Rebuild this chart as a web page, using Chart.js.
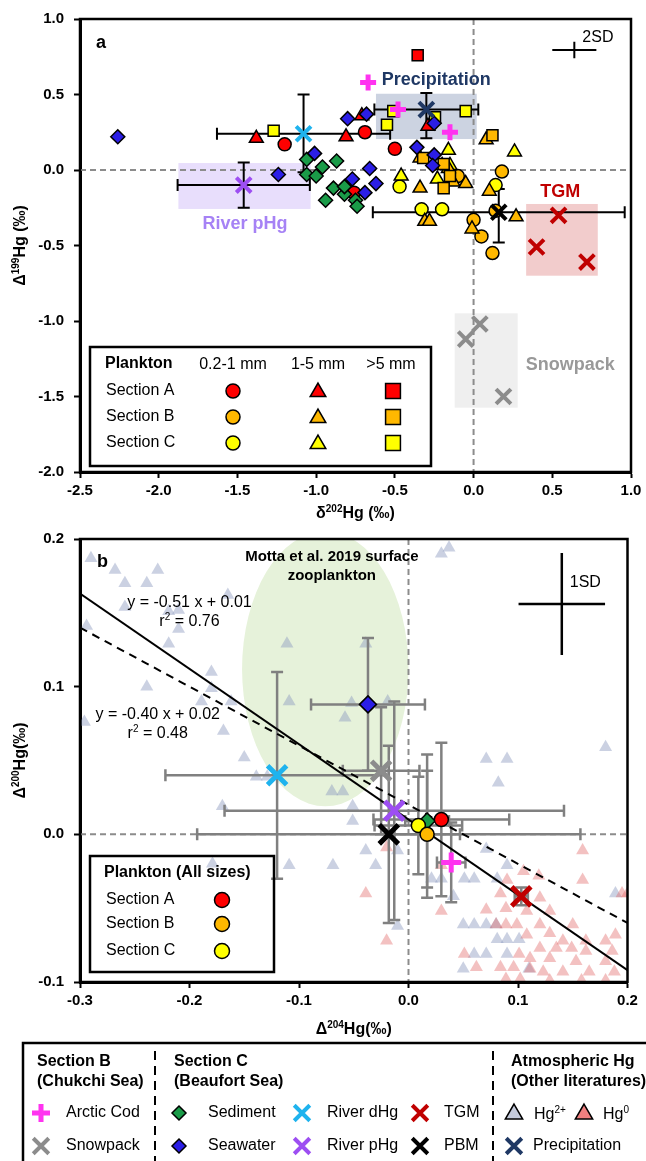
<!DOCTYPE html>
<html>
<head>
<meta charset="utf-8">
<script src="https://cdn.jsdelivr.net/npm/chart.js@4.4.0/dist/chart.umd.min.js"></script>
<style>
  html, body { margin: 0; padding: 0; background: #fff; }
  #wrapA { position: absolute; left: 0; top: 0; width: 646px; height: 530px; }
  #wrapB { position: absolute; left: 0; top: 515px; width: 646px; height: 646px; }
</style>
</head>
<body>
<div id="wrapA"><canvas id="chartA" width="646" height="530"></canvas></div>
<div id="wrapB"><canvas id="chartB" width="646" height="646"></canvas></div>
<script>
const FONT = '"Liberation Sans", Arial, Helvetica, sans-serif';

// ---------- panel a : d202Hg (x) vs D199Hg (y) ----------
const seawaterA = [[-2.26,0.22],[-1.24,-0.03],[-1.01,0.11],[-0.80,0.34],[-0.77,-0.06],[-0.68,0.37],[-0.66,0.01],[-0.62,-0.09],[-0.69,-0.15],[-0.36,0.15],[-0.25,0.10],[-0.25,0.31],[-0.26,0.03]];
const sedimentA = [[-1.06,0.07],[-0.96,0.02],[-0.87,0.06],[-1.06,-0.03],[-1.00,-0.04],[-0.89,-0.12],[-0.94,-0.20],[-0.82,-0.16],[-0.75,-0.20],[-0.74,-0.24],[-0.82,-0.11]];
const secASmallA = [[-1.20,0.17],[-0.69,0.25],[-0.76,-0.15],[-0.50,0.14]];
const secAMidA = [[-1.38,0.21],[-0.81,0.22],[-0.29,0.29],[-0.71,0.36]];
const secALargeA = [[-0.355,0.76]];
const secBSmallA = [[-0.10,-0.04],[0.18,-0.01],[0.00,-0.33],[0.05,-0.44],[0.12,-0.55],[0.14,-0.27]];
const secBMidA = [[-0.34,0.08],[-0.34,-0.12],[-0.16,0.01],[-0.13,-0.08],[-0.05,-0.09],[-0.31,-0.34],[-0.28,-0.34],[0.08,0.20],[0.27,-0.31],[0.10,-0.14],[-0.01,-0.39],[-0.20,0.03]];
const secBLargeA = [[0.12,0.23],[-0.32,0.08],[-0.19,0.04],[-0.19,-0.12],[-0.15,-0.04]];
const secCSmallA = [[-0.47,-0.11],[-0.33,-0.26],[-0.20,-0.26],[0.14,-0.10]];
const secCMidA = [[-0.16,0.13],[0.26,0.12],[-0.46,-0.04],[-0.23,-0.06],[-0.15,0.03]];
const secCLargeA = [[-1.27,0.26],[-0.51,0.39],[-0.55,0.30],[-0.05,0.39],[-0.245,0.35]];
const codA = [[-0.67,0.58],[-0.48,0.40],[-0.15,0.25]];
const precipA = [[-0.30,0.40]];
const riverDA = [[-1.08,0.24]];
const riverPA = [[-1.46,-0.10]];
const pbmA = [[0.16,-0.28]];
const tgmA = [[0.54,-0.30],[0.40,-0.51],[0.72,-0.61]];
const snowA = [[0.04,-1.02],[-0.05,-1.12],[0.19,-1.50]];
// error bars [xErr, yErrDown, yErrUp]
const precipErrA = [0.33,0.19,0.11];
const riverDErrA = [0.55,0.255,0.26];
const riverPErrA = [0.42,0.15,0.15];
const pbmErrA = [0.80,0.20,0.155];
// shaded ranges [x0, x1, y0, y1]
const precipBoxA = [-0.62,0.02,0.205,0.505];
const riverPBoxA = [-1.875,-1.035,-0.258,0.046];
const tgmBoxA = [0.334,0.789,-0.70,-0.225];
const snowBoxA = [-0.12,0.28,-1.574,-0.949];
// 2SD cross [x, y, xErr, yErr]
const sdA = [0.64,0.795,0.14,0.055];
const xTicksA = [-2.5, 1.0, 0.5];
const yTicksA = [-2.0, 1.0, 0.5];

// ---------- panel b : D204Hg (x) vs D200Hg (y) ----------
const hg2B = [[-0.290,0.187],[-0.268,0.179],[-0.259,0.170],[-0.239,0.170],[-0.229,0.179],[-0.259,0.154],[-0.219,0.151],[-0.210,0.152],[-0.210,0.139],[-0.294,0.141],[-0.165,0.162],[-0.219,0.129],[-0.180,0.110],[-0.180,0.099],[-0.239,0.100],[-0.189,0.090],[-0.162,0.090],[-0.296,0.076],[-0.169,0.070],[-0.111,0.129],[-0.109,0.090],[-0.058,0.079],[-0.052,0.089],[-0.150,0.052],[0.030,0.190],[0.037,0.194],[-0.039,0.129],[-0.019,0.090],[0.180,0.059],[0.071,0.051],[0.090,0.051],[-0.139,0.039],[-0.129,0.039],[-0.070,0.029],[-0.060,0.029],[-0.170,0.019],[-0.051,0.019],[-0.051,0.009],[-0.179,-0.020],[-0.109,-0.021],[-0.069,-0.021],[0.082,0.035],[-0.039,-0.011],[-0.010,-0.011],[-0.030,-0.021],[0.071,-0.010],[0.021,-0.030],[0.030,-0.030],[0.051,-0.030],[0.060,-0.030],[0.081,-0.030],[0.090,-0.021],[0.041,-0.042],[0.189,-0.040],[0.050,-0.061],[0.060,-0.061],[0.071,-0.061],[0.080,-0.061],[-0.010,-0.062],[0.081,-0.071],[0.090,-0.071],[0.101,-0.071],[0.060,-0.081],[0.071,-0.081],[0.090,-0.081],[0.050,-0.091],[0.110,-0.091]];
const hg0B = [[0.159,-0.011],[-0.020,-0.009],[-0.039,-0.040],[0.030,-0.052],[0.071,-0.051],[-0.020,-0.072],[0.105,-0.025],[0.119,-0.028],[0.090,-0.031],[0.159,-0.031],[0.084,-0.040],[0.120,-0.043],[0.089,-0.050],[0.108,-0.052],[0.129,-0.052],[0.080,-0.061],[0.089,-0.061],[0.099,-0.061],[0.120,-0.061],[0.150,-0.061],[0.108,-0.068],[0.129,-0.067],[0.141,-0.072],[0.162,-0.072],[0.180,-0.072],[0.189,-0.068],[0.120,-0.077],[0.135,-0.077],[0.149,-0.077],[0.162,-0.079],[0.186,-0.079],[0.051,-0.081],[0.101,-0.081],[0.111,-0.084],[0.129,-0.084],[0.153,-0.086],[0.180,-0.086],[0.062,-0.090],[0.084,-0.090],[0.096,-0.090],[0.111,-0.091],[0.123,-0.093],[0.141,-0.093],[0.165,-0.093],[0.188,-0.093],[0.089,-0.098],[0.102,-0.098],[0.129,-0.099],[0.158,-0.099],[0.180,-0.099],[0.195,-0.040],[0.200,-0.040],[0.030,-0.021]];
const secAB = [[0.030,0.010]];
const secBB = [[0.017,0.000]];
const secCB = [[0.009,0.006]];
const sedimentB = [[0.017,0.009]];
const seawaterB = [[-0.037,0.088]];
const riverDB = [[-0.120,0.040]];
const riverPB = [[-0.013,0.016]];
const pbmB = [[-0.018,0.000]];
const snowB = [[-0.025,0.043]];
const tgmB = [[0.103,-0.042]];
const codB = [[0.039,-0.019]];
const secAErrB = [0.062,0.052,0.052];
const secBErrB = [0.030,0.043,0.043];
const secCErrB = [0.040,0.033,0.033];
const sedimentErrB = [0.020,0.045,0.045];
const seawaterErrB = [0.052,0.045,0.045];
const riverDErrB = [0.102,0.070,0.070];
const riverPErrB = [0.155,0.074,0.074];
const pbmErrB = [0.175,0.060,0.060];
const snowErrB = [0.035,0.043,0.043];
const tgmErrB = [0.006,0.006,0.006];
const codErrB = [0.013,0.027,0.027];
// regression: [slope, intercept]
const fitAllB = [-0.51, 0.01];
const fitPlanktonB = [-0.40, 0.02];
// Motta et al. 2019 range: [cx, cy, rx, ry]
const mottaB = [-0.076, 0.112, 0.076, 0.093];
const sdB = [0.140, 0.156, 0.0395, 0.0345];
const xTicksB = [-0.3, 0.2, 0.1];
const yTicksB = [-0.1, 0.2, 0.1];

// colours
const C = {
  red: '#ff0000', orange: '#ffb800', yellow: '#ffff00',
  sea: '#2b1ee6', sed: '#1a9b48', cod: '#ff33f0', navy: '#1f3864',
  cyan: '#1fb3ee', purple: '#9d4ef2', tgm: '#c00000', snow: '#8c8c8c', pbm: '#000000'
};

function toXY(arr) { return arr.map(p => ({ x: p[0], y: p[1] })); }
function markSet(label, arr, style, fill, r, order) {
  return { label, data: toXY(arr), pointStyle: style, backgroundColor: fill, borderColor: '#000',
    borderWidth: 1.5, pointRadius: r, pointHoverRadius: r, order };
}
function lineMark(label, arr, style, color, r, bw, order) {
  return { label, data: toXY(arr), pointStyle: style, backgroundColor: color, borderColor: color,
    borderWidth: bw, pointRadius: r, pointHoverRadius: r, order };
}
function fmt(v) { return (Math.abs(v) < 1e-9 ? 0 : v).toFixed(1); }
function axis(t, fit) {
  return {
    type: 'linear', min: t[0], max: t[1],
    ticks: { stepSize: t[2], color: '#000', font: { family: FONT, size: 15, weight: 'bold' }, padding: fit.pad, callback: fmt },
    grid: { drawOnChartArea: false, drawTicks: true, tickLength: 6, tickWidth: 2, tickColor: '#000' },
    border: { display: true, color: '#000', width: 3 },
    afterFit: fit.fn
  };
}

// text with superscripts: parts = [[text, isSup], ...]
function rich(ctx, parts, x, y, size, weight, align, color) {
  const f = s => `${weight} ${Math.round(s)}px ${FONT}`;
  let w = 0;
  parts.forEach(([t, sup]) => { ctx.font = f(sup ? size * 0.65 : size); w += ctx.measureText(t).width; });
  let cx = align === 'center' ? x - w / 2 : (align === 'right' ? x - w : x);
  ctx.fillStyle = color || '#000';
  ctx.textAlign = 'left';
  ctx.textBaseline = 'alphabetic';
  parts.forEach(([t, sup]) => {
    ctx.font = f(sup ? size * 0.65 : size);
    ctx.fillText(t, cx, sup ? y - size * 0.38 : y);
    cx += ctx.measureText(t).width;
  });
}
function text(ctx, s, x, y, size, weight, align, color) {
  ctx.font = `${weight} ${size}px ${FONT}`;
  ctx.fillStyle = color || '#000';
  ctx.textAlign = align;
  ctx.textBaseline = 'middle';
  ctx.fillText(s, x, y);
}
function mark(ctx, style, r, fill, stroke, bw, x, y) {
  ctx.save();
  ctx.fillStyle = fill; ctx.strokeStyle = stroke; ctx.lineWidth = bw;
  Chart.helpers.drawPoint(ctx, { pointStyle: style, radius: r, borderWidth: bw, rotation: 0 }, x, y);
  ctx.restore();
}
function errBar(ctx, chart, p, e, color, lw, cap) {
  const xs = chart.scales.x, ys = chart.scales.y;
  const cx = xs.getPixelForValue(p[0]), cy = ys.getPixelForValue(p[1]);
  const x0 = xs.getPixelForValue(p[0] - e[0]), x1 = xs.getPixelForValue(p[0] + e[0]);
  const y0 = ys.getPixelForValue(p[1] - e[1]), y1 = ys.getPixelForValue(p[1] + e[2]);
  ctx.save();
  ctx.strokeStyle = color; ctx.lineWidth = lw; ctx.setLineDash([]);
  ctx.beginPath();
  ctx.moveTo(x0, cy); ctx.lineTo(x1, cy);
  ctx.moveTo(x0, cy - cap); ctx.lineTo(x0, cy + cap);
  ctx.moveTo(x1, cy - cap); ctx.lineTo(x1, cy + cap);
  ctx.moveTo(cx, y0); ctx.lineTo(cx, y1);
  ctx.moveTo(cx - cap, y0); ctx.lineTo(cx + cap, y0);
  ctx.moveTo(cx - cap, y1); ctx.lineTo(cx + cap, y1);
  ctx.stroke();
  ctx.restore();
}
function sdCross(ctx, chart, s, lw) {
  const xs = chart.scales.x, ys = chart.scales.y;
  const cx = xs.getPixelForValue(s[0]), cy = ys.getPixelForValue(s[1]);
  ctx.save();
  ctx.strokeStyle = '#000'; ctx.lineWidth = lw;
  ctx.beginPath();
  ctx.moveTo(xs.getPixelForValue(s[0] - s[2]), cy); ctx.lineTo(xs.getPixelForValue(s[0] + s[2]), cy);
  ctx.moveTo(cx, ys.getPixelForValue(s[1] - s[3])); ctx.lineTo(cx, ys.getPixelForValue(s[1] + s[3]));
  ctx.stroke();
  ctx.restore();
}
function box(ctx, chart, b, color) {
  const xs = chart.scales.x, ys = chart.scales.y;
  const x0 = xs.getPixelForValue(b[0]), x1 = xs.getPixelForValue(b[1]);
  const y0 = ys.getPixelForValue(b[2]), y1 = ys.getPixelForValue(b[3]);
  ctx.fillStyle = color;
  ctx.fillRect(x0, y1, x1 - x0, y0 - y1);
}
function zeroLines(ctx, chart) {
  const a = chart.chartArea, xs = chart.scales.x, ys = chart.scales.y;
  const x0 = xs.getPixelForValue(0), y0 = ys.getPixelForValue(0);
  ctx.save();
  ctx.strokeStyle = '#8c8c8c'; ctx.lineWidth = 2; ctx.setLineDash([6, 4]);
  ctx.beginPath();
  ctx.moveTo(x0, a.top); ctx.lineTo(x0, a.bottom);
  ctx.moveTo(a.left, y0); ctx.lineTo(a.right, y0);
  ctx.stroke();
  ctx.restore();
}
function frame(ctx, chart) {
  const a = chart.chartArea;
  ctx.save();
  ctx.strokeStyle = '#000'; ctx.lineWidth = 2.5;
  ctx.strokeRect(a.left, a.top, a.right - a.left, a.bottom - a.top);
  ctx.restore();
}

// ---------------- chart a ----------------
const panelA = {
  id: 'panelA',
  beforeDatasetsDraw(chart) {
    const ctx = chart.ctx, a = chart.chartArea;
    ctx.save();
    ctx.beginPath(); ctx.rect(a.left, a.top, a.right - a.left, a.bottom - a.top); ctx.clip();
    box(ctx, chart, precipBoxA, '#ccd3e1');
    box(ctx, chart, riverPBoxA, '#e8defc');
    box(ctx, chart, tgmBoxA, '#f2cccc');
    box(ctx, chart, snowBoxA, '#efefef');
    zeroLines(ctx, chart);
    errBar(ctx, chart, precipA[0], precipErrA, '#000', 2, 6);
    errBar(ctx, chart, riverDA[0], riverDErrA, '#000', 2, 6);
    errBar(ctx, chart, riverPA[0], riverPErrA, '#000', 2, 6);
    errBar(ctx, chart, pbmA[0], pbmErrA, '#000', 2, 6);
    ctx.restore();
  },
  afterDraw(chart) {
    const ctx = chart.ctx, a = chart.chartArea, xs = chart.scales.x, ys = chart.scales.y;
    frame(ctx, chart);
    sdCross(ctx, chart, sdA, 2);
    text(ctx, '2SD', xs.getPixelForValue(sdA[0]) + 8, ys.getPixelForValue(sdA[1]) - 12, 16, 'normal', 'left');
    text(ctx, 'a', a.left + 16, a.top + 24, 18, 'bold', 'left');
    text(ctx, 'Precipitation', xs.getPixelForValue(-0.583), ys.getPixelForValue(0.598), 18, 'bold', 'left', C.navy);
    text(ctx, 'River pHg', xs.getPixelForValue(-1.452), ys.getPixelForValue(-0.358), 18, 'bold', 'center', '#a682f5');
    text(ctx, 'TGM', xs.getPixelForValue(0.55), ys.getPixelForValue(-0.148), 18, 'bold', 'center', C.tgm);
    text(ctx, 'Snowpack', xs.getPixelForValue(0.332), ys.getPixelForValue(-1.29), 18, 'bold', 'left', '#999999');
    // axis titles
    rich(ctx, [['δ', 0], ['202', 1], ['Hg (‰)', 0]], (a.left + a.right) / 2, 518, 16, 'bold', 'center');
    ctx.save();
    ctx.translate(25, (a.top + a.bottom) / 2); ctx.rotate(-Math.PI / 2);
    rich(ctx, [['Δ', 0], ['199', 1], ['Hg (‰)', 0]], 0, 0, 16, 'bold', 'center');
    ctx.restore();
    // legend
    ctx.save();
    ctx.strokeStyle = '#000'; ctx.lineWidth = 2.5;
    ctx.strokeRect(90, 347, 341, 119);
    ctx.restore();
    text(ctx, 'Plankton', 105, 364, 16, 'bold', 'left');
    text(ctx, '0.2-1 mm', 233, 365, 16, 'normal', 'center');
    text(ctx, '1-5 mm', 318, 365, 16, 'normal', 'center');
    text(ctx, '>5 mm', 391, 365, 16, 'normal', 'center');
    [['Section A', C.red, 391], ['Section B', C.orange, 417], ['Section C', C.yellow, 443]].forEach(([s, col, yy]) => {
      text(ctx, s, 106, yy, 16, 'normal', 'left');
      mark(ctx, 'circle', 7, col, '#000', 1.5, 233, yy);
      mark(ctx, 'triangle', 9, col, '#000', 1.5, 318, yy + 1);
      mark(ctx, 'rect', 10.5, col, '#000', 1.5, 393, yy);
    });
  }
};

new Chart(document.getElementById('chartA'), {
  type: 'scatter',
  data: {
    datasets: [
      lineMark('Precipitation', precipA, 'crossRot', C.navy, 10.5, 4, 0),
      lineMark('River dHg', riverDA, 'crossRot', C.cyan, 10.5, 4, 0),
      lineMark('River pHg', riverPA, 'crossRot', C.purple, 10.5, 4, 0),
      lineMark('PBM', pbmA, 'crossRot', C.pbm, 10.5, 4, 0),
      lineMark('TGM', tgmA, 'crossRot', C.tgm, 10.5, 4, 0),
      lineMark('Snowpack', snowA, 'crossRot', C.snow, 10.5, 4, 0),
      lineMark('Arctic Cod', codA, 'cross', C.cod, 8, 5, 1),
      markSet('Seawater', seawaterA, 'rectRot', C.sea, 7, 2),
      markSet('Sediment', sedimentA, 'rectRot', C.sed, 7, 2),
      markSet('A 0.2-1', secASmallA, 'circle', C.red, 6.5, 5),
      markSet('A 1-5', secAMidA, 'triangle', C.red, 8, 4),
      markSet('A >5', secALargeA, 'rect', C.red, 7.8, 3),
      markSet('B 0.2-1', secBSmallA, 'circle', C.orange, 6.5, 5),
      markSet('B 1-5', secBMidA, 'triangle', C.orange, 8, 4),
      markSet('B >5', secBLargeA, 'rect', C.orange, 7.8, 3),
      markSet('C 0.2-1', secCSmallA, 'circle', C.yellow, 6.5, 5),
      markSet('C 1-5', secCMidA, 'triangle', C.yellow, 8, 4),
      markSet('C >5', secCLargeA, 'rect', C.yellow, 7.8, 3)
    ]
  },
  options: {
    responsive: false, animation: false, events: [],
    layout: { padding: { left: 0, right: 15, top: 19, bottom: 0 } },
    plugins: { legend: { display: false }, tooltip: { enabled: false } },
    scales: {
      x: axis(xTicksA, { pad: 4, fn: s => { s.height = 58; } }),
      y: axis(yTicksA, { pad: 10, fn: s => { s.width = 80; } })
    }
  },
  plugins: [panelA]
});

// ---------------- chart b ----------------
let errDrawnB = false;
const panelB = {
  id: 'panelB',
  beforeDraw() { errDrawnB = false; },
  beforeDatasetsDraw(chart) {
    const ctx = chart.ctx, a = chart.chartArea, xs = chart.scales.x, ys = chart.scales.y;
    ctx.save();
    ctx.beginPath(); ctx.rect(a.left, a.top, a.right - a.left, a.bottom - a.top); ctx.clip();
    ctx.fillStyle = '#e6f2da';
    ctx.beginPath();
    ctx.ellipse(xs.getPixelForValue(mottaB[0]), ys.getPixelForValue(mottaB[1]),
      xs.getPixelForValue(mottaB[0] + mottaB[2]) - xs.getPixelForValue(mottaB[0]),
      ys.getPixelForValue(mottaB[1]) - ys.getPixelForValue(mottaB[1] + mottaB[3]), 0, 0, Math.PI * 2);
    ctx.fill();
    zeroLines(ctx, chart);
    ctx.restore();
  },
  beforeDatasetDraw(chart, args) {
    if (errDrawnB || chart.data.datasets[args.index].order > 6) return;
    errDrawnB = true;
    const ctx = chart.ctx, g = '#808080';
    [[riverDB, riverDErrB], [seawaterB, seawaterErrB], [snowB, snowErrB], [riverPB, riverPErrB],
     [pbmB, pbmErrB], [secAB, secAErrB], [secBB, secBErrB], [secCB, secCErrB],
     [sedimentB, sedimentErrB], [codB, codErrB], [tgmB, tgmErrB]].forEach(([p, e]) => errBar(ctx, chart, p[0], e, g, 2.5, 6));
  },
  afterDraw(chart) {
    const ctx = chart.ctx, a = chart.chartArea, xs = chart.scales.x, ys = chart.scales.y;
    frame(ctx, chart);
    sdCross(ctx, chart, sdB, 2.5);
    text(ctx, '1SD', xs.getPixelForValue(sdB[0]) + 8, ys.getPixelForValue(sdB[1]) - 21, 16, 'normal', 'left');
    text(ctx, 'b', a.left + 17, a.top + 23, 18, 'bold', 'left');
    text(ctx, 'Motta et al. 2019 surface', xs.getPixelForValue(-0.070), ys.getPixelForValue(0.188), 15, 'bold', 'center');
    text(ctx, 'zooplankton', xs.getPixelForValue(-0.070), ys.getPixelForValue(0.175), 15, 'bold', 'center');
    text(ctx, 'y = -0.51 x + 0.01', xs.getPixelForValue(-0.200), ys.getPixelForValue(0.157), 16, 'normal', 'center');
    rich(ctx, [['r', 0], ['2', 1], [' = 0.76', 0]], xs.getPixelForValue(-0.200), ys.getPixelForValue(0.145) + 5.5, 16, 'normal', 'center');
    text(ctx, 'y = -0.40 x + 0.02', xs.getPixelForValue(-0.229), ys.getPixelForValue(0.081), 16, 'normal', 'center');
    rich(ctx, [['r', 0], ['2', 1], [' = 0.48', 0]], xs.getPixelForValue(-0.229), ys.getPixelForValue(0.069) + 5.5, 16, 'normal', 'center');
    // axis titles
    rich(ctx, [['Δ', 0], ['204', 1], ['Hg(‰)', 0]], (a.left + a.right) / 2, 519, 16, 'bold', 'center');
    ctx.save();
    ctx.translate(25, (a.top + a.bottom) / 2); ctx.rotate(-Math.PI / 2);
    rich(ctx, [['Δ', 0], ['200', 1], ['Hg(‰)', 0]], 0, 0, 16, 'bold', 'center');
    ctx.restore();
    // plankton legend
    ctx.save();
    ctx.strokeStyle = '#000'; ctx.lineWidth = 2.5;
    ctx.strokeRect(90, 341, 184, 116);
    ctx.restore();
    text(ctx, 'Plankton (All sizes)', 104, 358, 16, 'bold', 'left');
    [['Section A', C.red, 385], ['Section B', C.orange, 409], ['Section C', C.yellow, 436]].forEach(([s, col, yy]) => {
      text(ctx, s, 106, yy, 16, 'normal', 'left');
      mark(ctx, 'circle', 7.5, col, '#000', 1.5, 222, yy);
    });
    // bottom legend
    ctx.save();
    ctx.strokeStyle = '#000'; ctx.lineWidth = 2.5;
    ctx.beginPath();
    ctx.moveTo(23, 648); ctx.lineTo(23, 528); ctx.lineTo(648, 528);
    ctx.stroke();
    ctx.setLineDash([9, 6]); ctx.lineWidth = 2;
    ctx.beginPath();
    ctx.moveTo(155, 536); ctx.lineTo(155, 646);
    ctx.moveTo(493, 536); ctx.lineTo(493, 646);
    ctx.stroke();
    ctx.restore();
    text(ctx, 'Section B', 37, 547, 16, 'bold', 'left');
    text(ctx, '(Chukchi Sea)', 37, 567, 16, 'bold', 'left');
    text(ctx, 'Section C', 174, 547, 16, 'bold', 'left');
    text(ctx, '(Beaufort Sea)', 174, 567, 16, 'bold', 'left');
    text(ctx, 'Atmospheric Hg', 511, 547, 16, 'bold', 'left');
    text(ctx, '(Other literatures)', 511, 567, 16, 'bold', 'left');
    const r1 = 598, r2 = 631;
    mark(ctx, 'cross', 9, C.cod, C.cod, 5, 41, r1);
    text(ctx, 'Arctic Cod', 66, r1, 16, 'normal', 'left');
    mark(ctx, 'crossRot', 11, C.snow, C.snow, 4, 41, r2);
    text(ctx, 'Snowpack', 66, r2, 16, 'normal', 'left');
    mark(ctx, 'rectRot', 7, C.sed, '#000', 1.5, 179, r1);
    text(ctx, 'Sediment', 208, r1, 16, 'normal', 'left');
    mark(ctx, 'rectRot', 7, C.sea, '#000', 1.5, 179, r2);
    text(ctx, 'Seawater', 208, r2, 16, 'normal', 'left');
    mark(ctx, 'crossRot', 11, C.cyan, C.cyan, 4, 302, r1);
    text(ctx, 'River dHg', 327, r1, 16, 'normal', 'left');
    mark(ctx, 'crossRot', 11, C.purple, C.purple, 4, 302, r2);
    text(ctx, 'River pHg', 327, r2, 16, 'normal', 'left');
    mark(ctx, 'crossRot', 11, C.tgm, C.tgm, 4, 420, r1);
    text(ctx, 'TGM', 444, r1, 16, 'normal', 'left');
    mark(ctx, 'crossRot', 11, C.pbm, C.pbm, 4, 420, r2);
    text(ctx, 'PBM', 444, r2, 16, 'normal', 'left');
    mark(ctx, 'triangle', 10, '#c5cbdc', '#000', 1.5, 514, r1 + 1);
    rich(ctx, [['Hg', 0], ['2+', 1]], 534, r1 + 6, 16, 'normal', 'left');
    mark(ctx, 'triangle', 10, '#f08080', '#000', 1.5, 584, r1 + 1);
    rich(ctx, [['Hg', 0], ['0', 1]], 603, r1 + 6, 16, 'normal', 'left');
    mark(ctx, 'crossRot', 11, C.navy, C.navy, 4, 514, r2);
    text(ctx, 'Precipitation', 533, r2, 16, 'normal', 'left');
  }
};

function fitLine(label, f, dash, order) {
  return {
    label, type: 'scatter', showLine: true, order,
    data: [xTicksB[0], xTicksB[1]].map(x => ({ x, y: f[0] * x + f[1] })),
    borderColor: '#000', borderWidth: 2, borderDash: dash, pointRadius: 0, fill: false
  };
}

new Chart(document.getElementById('chartB'), {
  type: 'scatter',
  data: {
    datasets: [
      markSet('Plankton A', secAB, 'circle', C.red, 7, 0),
      markSet('Plankton B', secBB, 'circle', C.orange, 7, 0),
      markSet('Plankton C', secCB, 'circle', C.yellow, 7, 0),
      lineMark('Arctic Cod', codB, 'cross', C.cod, 10, 5, 1),
      lineMark('TGM', tgmB, 'crossRot', C.tgm, 13.5, 5, 1),
      lineMark('PBM', pbmB, 'crossRot', C.pbm, 13.5, 5, 1),
      lineMark('River pHg', riverPB, 'crossRot', C.purple, 13.5, 5, 1),
      lineMark('River dHg', riverDB, 'crossRot', C.cyan, 13.5, 5, 1),
      lineMark('Snowpack', snowB, 'crossRot', C.snow, 13.5, 5, 1),
      markSet('Seawater', seawaterB, 'rectRot', C.sea, 8.5, 2),
      markSet('Sediment', sedimentB, 'rectRot', C.sed, 8, 2),
      fitLine('Fit all', fitAllB, [], 5),
      fitLine('Fit plankton', fitPlanktonB, [8, 6], 6),
      { label: 'Hg0', data: toXY(hg0B), pointStyle: 'triangle', backgroundColor: 'rgba(225,100,100,0.4)', borderWidth: 0, pointRadius: 7.5, order: 10 },
      { label: 'Hg2+', data: toXY(hg2B), pointStyle: 'triangle', backgroundColor: 'rgba(140,152,190,0.45)', borderWidth: 0, pointRadius: 7.5, order: 11 }
    ]
  },
  options: {
    responsive: false, animation: false, events: [],
    layout: { padding: { left: 0, right: 11, top: 24, bottom: 119 } },
    plugins: { legend: { display: false }, tooltip: { enabled: false } },
    scales: {
      x: axis(xTicksB, { pad: 4, fn: s => { s.height = 60; } }),
      y: axis(yTicksB, { pad: 10, fn: s => { s.width = 80; } })
    }
  },
  plugins: [panelB]
});
</script>
</body>
</html>
